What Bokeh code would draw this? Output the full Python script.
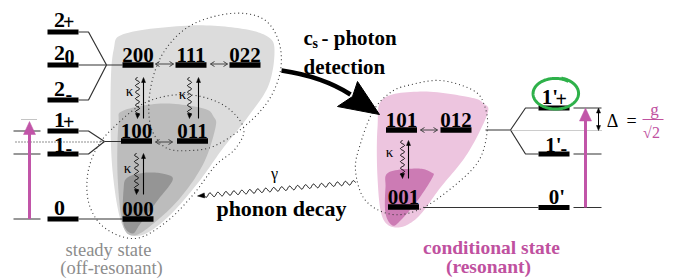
import numpy as np
from bokeh.plotting import figure
from bokeh.models import Range1d
from bokeh.core.properties import value
from bokeh.embed import file_html
from bokeh.resources import INLINE

# ---------------- data (labels) ----------------
left_main = ["2", "2", "2", "1", "1", "0"]
left_sub = ["+", "0", "-", "+", "-", ""]
state_names = ["200", "111", "022", "100", "011", "000"]
pink_names = ["101", "012", "001"]
right_main = ["1'", "1'", "0'"]
right_sub = ["+", "-"]
kappa = "κ"
gamma = "γ"
title_photon = ["c", "s", "- photon", "detection"]
phonon_text = "phonon decay"
left_caption = ["steady state", "(off-resonant)"]
right_caption = ["conditional state", "(resonant)"]
delta_text = ["Δ", "=", "g", "√2"]

# ---------------- layout (pixel coordinates of the page) ----------------
left_bar_y = [31.5, 64.5, 99.5, 130.5, 153.5, 218.5]
left_main_base = [25, 58.5, 94, 125, 150, 213.5]
left_sub_x = [62.5, 64, 65, 62.5, 65, 0]
left_sub_base = [26.5, 62, 98.5, 126.5, 152.5, 0]
state_x = [137.5, 190.5, 244.5, 136, 192, 137.5]
state_y = [64.5, 64.5, 64.5, 140.5, 140.5, 218.5]
pink_x = [401, 455.5, 403]
pink_y = [129.5, 129.5, 206.5]
right_bar_y = [107.5, 153.5, 207]

SERIF = value("Liberation Serif")
MAGENTA = "#c155a8"
PINK_TXT = "#c0519f"
SHIFT = 0.26  # em offset of the rendered alphabetic baseline

p = figure(width=675, height=278, x_range=Range1d(0, 675), y_range=Range1d(278, 0),
           x_axis_type=None, y_axis_type=None, output_backend="svg", toolbar_location=None,
           min_border=0, outline_line_color=None, background_fill_color="white")
p.grid.visible = False


def cr_closed(pts, n=14):
    pts = np.array(pts, dtype=float)
    N = len(pts)
    out = []
    for i in range(N):
        p0, p1, p2, p3 = pts[i - 1], pts[i], pts[(i + 1) % N], pts[(i + 2) % N]
        for t in np.linspace(0, 1, n, endpoint=False):
            t2, t3 = t * t, t * t * t
            out.append(0.5 * ((2 * p1) + (-p0 + p2) * t + (2 * p0 - 5 * p1 + 4 * p2 - p3) * t2
                              + (-p0 + 3 * p1 - 3 * p2 + p3) * t3))
    out.append(out[0])
    out = np.array(out)
    return out[:, 0], out[:, 1]


def wavy(x0, y0, x1, y1, amp=2.2, wl=7.0):
    L = np.hypot(x1 - x0, y1 - y0)
    t = np.linspace(0, 1, int(L * 3) + 2)
    ux, uy = (x1 - x0) / L, (y1 - y0) / L
    nx, ny = -uy, ux
    s = amp * np.sin(2 * np.pi * t * L / wl)
    return x0 + ux * L * t + nx * s, y0 + uy * L * t + ny * s


def head(xt, yt, dx, dy, length, width, color="black"):
    L = np.hypot(dx, dy)
    ux, uy = dx / L, dy / L
    nx, ny = -uy, ux
    bx, by = xt - ux * length, yt - uy * length
    xs = [xt, bx + nx * width / 2, bx - nx * width / 2]
    ys = [yt, by + ny * width / 2, by - ny * width / 2]
    p.patch(xs, ys, fill_color=color, line_color=color, line_width=0.5)


def vee(xt, yt, dx, dy, length=4, width=5, color="black", lw=1):
    L = np.hypot(dx, dy)
    ux, uy = dx / L, dy / L
    nx, ny = -uy, ux
    bx, by = xt - ux * length, yt - uy * length
    p.multi_line([[bx + nx * width / 2, xt, bx - nx * width / 2]],
                 [[by + ny * width / 2, yt, by - ny * width / 2]], line_color=color, line_width=lw)


def txt(x, y, t, size, bold=False, align="center", color="black"):
    off = SHIFT * size
    p.text(x=x, y=[v - off for v in y], text=t, text_font=SERIF,
           text_font_style="bold" if bold else "normal",
           text_font_size=f"{size}px", text_align=align, text_baseline="alphabetic", text_color=color)


# ---------------- blobs ----------------
light_gray = [(113, 50), (125, 33), (190, 25), (240, 28), (267, 36), (274, 50), (268, 85), (247, 117),
              (223, 147), (197, 183), (167, 217), (140, 235), (122, 225), (112, 170), (110, 100)]
mid_gray = [(123, 110), (163, 103), (203, 108), (213, 116), (215, 127), (203, 163), (180, 197),
            (153, 223), (133, 235), (122, 223), (117, 173), (118, 123)]
dark_gray = [(127, 177), (147, 172), (166, 174), (172, 180), (157, 200), (140, 223), (132, 233),
             (123, 223), (123, 190)]
pink_light = [(383, 98), (423, 91), (470, 97), (483, 103), (487, 113), (467, 153), (440, 187),
              (417, 217), (397, 227), (382, 217), (377, 177), (377, 127)]
pink_dark = [(388, 172), (417, 168), (431, 172), (432, 177), (417, 200), (400, 220), (392, 225),
             (385, 213), (385, 187)]

for pts, col in [(light_gray, "#dcdcdc"), (mid_gray, "#bcbcbc"), (dark_gray, "#959595"),
                 (pink_light, "#edc5df"), (pink_dark, "#cc7bb4")]:
    xs, ys = cr_closed(pts)
    p.patch(xs, ys, fill_color=col, line_color=None)

# ---------------- dotted ellipses ----------------
e1 = [(150, 125), (150, 88), (163, 52), (190, 25), (230, 13), (262, 18), (278, 40), (280, 70),
      (268, 100), (245, 125), (215, 145), (190, 150), (165, 147)]
e2 = [(113, 127), (145, 102), (185, 94), (222, 104), (243, 127), (235, 148), (215, 165), (192, 195),
      (165, 222), (135, 238), (105, 228), (89, 205), (87, 175), (96, 148)]
e3 = [(373, 110), (390, 92), (407, 85), (440, 80), (473, 90), (484, 105), (487, 127), (480, 157),
      (460, 180), (423, 207), (392, 214), (365, 200), (355, 170), (360, 143)]
for pts in (e1, e2, e3):
    xs, ys = cr_closed(pts)
    p.line(xs, ys, line_color="#333333", line_width=1.1, line_dash="1 3")

# ---------------- left energy levels ----------------
BX0, BX1 = 47, 78
p.quad(left=[BX0] * 6, right=[BX1] * 6, top=[y - 2.5 for y in left_bar_y],
       bottom=[y + 2.5 for y in left_bar_y], fill_color="black", line_color=None)
txt([59] * 6, left_main_base, left_main, 22, bold=True)
txt(left_sub_x[:5], left_sub_base[:5], left_sub[:5], 20, bold=True, align="left")

# connectors (left)
y2p, y20, y2m, y1p, y1m, y0 = left_bar_y
p.multi_line([[BX1, 88, 106], [BX1, 88, 106], [BX1, 122], [BX1, 88, 104], [BX1, 88, 104], [104, 121],
              [BX1, 122], [13, 40], [13, 40], [13, 40]],
             [[y2p, y2p, y20], [y2m, y2m, y20], [y20, y20], [y1p, y1p, 141], [y1m, y1m, 141], [141, 141],
              [y0, y0], [y1p, y1p], [y1m, y1m], [y0, y0]],
             line_color="#333333", line_width=1.2)
p.line([15, 104], [141.5, 141.5], line_color="#222222", line_width=1.1, line_dash="1 2")
p.line([21, 37], [119, 119], line_color="#888888", line_width=1.1, line_dash="1 1")

# magenta arrow left
p.line([29, 29], [218.5, 130], line_color=MAGENTA, line_width=3)
head(29, 121, 0, -1, 13, 12, color=MAGENTA)

# ---------------- states ----------------
p.quad(left=[x - 15.5 for x in state_x], right=[x + 15.5 for x in state_x],
       top=[y - 2.7 for y in state_y], bottom=[y + 2.7 for y in state_y], fill_color="black", line_color=None)
txt(state_x, [y - 5 for y in state_y], state_names, 21, bold=True)

p.quad(left=[x - 15.5 for x in pink_x], right=[x + 15.5 for x in pink_x],
       top=[y - 2.7 for y in pink_y], bottom=[y + 2.7 for y in pink_y], fill_color="black", line_color=None)
txt(pink_x, [y - 4.5 for y in pink_y], pink_names, 21, bold=True)

# double arrows
for (xa, xb, yy) in [(155, 173, 63.5), (210, 227, 63.5), (155, 172, 141.5), (420, 437, 129.5)]:
    p.line([xa, xb], [yy, yy], line_color="#444444", line_width=1)
    vee(xa, yy, -1, 0, 4, 5, color="#444444")
    vee(xb, yy, 1, 0, 4, 5, color="#444444")

# kappa arrows
for (xw, xs_, ytop, ybot, kx, ky) in [(137, 143, 77, 118, 129, 94), (189, 198, 77, 118, 182, 97),
                                      (136, 143, 153, 194, 127, 171), (402, 408, 140, 178, 389, 155)]:
    wx, wy = wavy(xw, ytop, xw, ybot - 2, amp=2.0, wl=6.5)
    p.line(wx, wy, line_color="black", line_width=1)
    head(xw, ybot, 0, 1, 5, 4)
    p.line([xs_, xs_], [ybot, ytop + 3], line_color="black", line_width=1.1)
    head(xs_, ytop, 0, -1, 5, 4)
    txt([kx], [ky], [kappa], 15)

# ---------------- big curved arrow ----------------
p.quadratic(x0=[281], y0=[70], x1=[350], y1=[94], cx=[322], cy=[76], line_color="black", line_width=4.5)
p.patch([379, 337, 352, 357], [114, 106, 96, 81], fill_color="black", line_color="black")

txt([303], [43], [title_photon[0]], 21, bold=True, align="left")
txt([312], [47], [title_photon[1]], 14, bold=True, align="left")
txt([321], [43], [title_photon[2]], 21, bold=True, align="left")
txt([303], [72], [title_photon[3]], 21, bold=True, align="left")

# ---------------- phonon decay ----------------
wx, wy = wavy(355, 182, 203, 195, amp=2.0, wl=8)
p.line(wx, wy, line_color="black", line_width=1)
head(197, 195.5, -1, 0.08, 7, 5)
txt([274], [177.5], [gamma], 16)
txt([281], [213.5], [phonon_text], 22, bold=True)

# ---------------- right energy levels ----------------
RX0, RX1 = 538, 569
p.quad(left=[RX0] * 3, right=[RX1] * 3, top=[y - 2.5 for y in right_bar_y],
       bottom=[y + 2.5 for y in right_bar_y], fill_color="black", line_color=None)
txt([549.5, 553, 556.5], [102, 150, 202], right_main, 21, bold=True)
txt([555, 560], [103.5, 153], right_sub, 20, bold=True, align="left")

yp, ym, y0r = right_bar_y
p.multi_line([[485, 510, 525, RX0], [510, 525, RX0], [423, RX0], [573, 601], [573, 601], [573, 601]],
             [[129.5, 129.5, yp, yp], [129.5, ym, ym], [y0r, y0r], [yp, yp], [ym, ym], [y0r, y0r]],
             line_color="#333333", line_width=1.2)
p.line([510, 601], [130, 130], line_color="#999999", line_width=1.1, line_dash="1 1")

# magenta arrow right
p.line([585, 585], [y0r, 118], line_color=MAGENTA, line_width=3)
head(585, 107.5, 0, -1, 13, 12, color=MAGENTA)

# delta double arrow
p.line([598, 598], [110, 127], line_color="black", line_width=1)
head(598, 107.5, 0, -1, 5, 4)
head(598, 130, 0, 1, 5, 4)
txt([612], [125], [delta_text[0]], 18)
txt([631], [125.5], [delta_text[1]], 18)
txt([654], [113.5], [delta_text[2]], 17, color=PINK_TXT)
p.line([642, 663], [119, 119], line_color=PINK_TXT, line_width=1)
txt([651], [136], [delta_text[3]], 16, color=PINK_TXT)

# green loop around 1'+
t = np.linspace(0.3 * np.pi, 2.42 * np.pi, 200)
r = 1 + 0.06 * (t - t[0]) / (t[-1] - t[0])
p.line(555 + 22 * r * np.cos(t), 93 - 15 * r * np.sin(t), line_color="#2eb14a", line_width=3)

# ---------------- captions ----------------
txt([108, 111], [254, 272], left_caption, 18.5, color="#8c8c8c")
txt([491, 488], [252, 271], right_caption, 19.5, bold=True, color=PINK_TXT)

open("out.html", "w").write(file_html(p, INLINE))
